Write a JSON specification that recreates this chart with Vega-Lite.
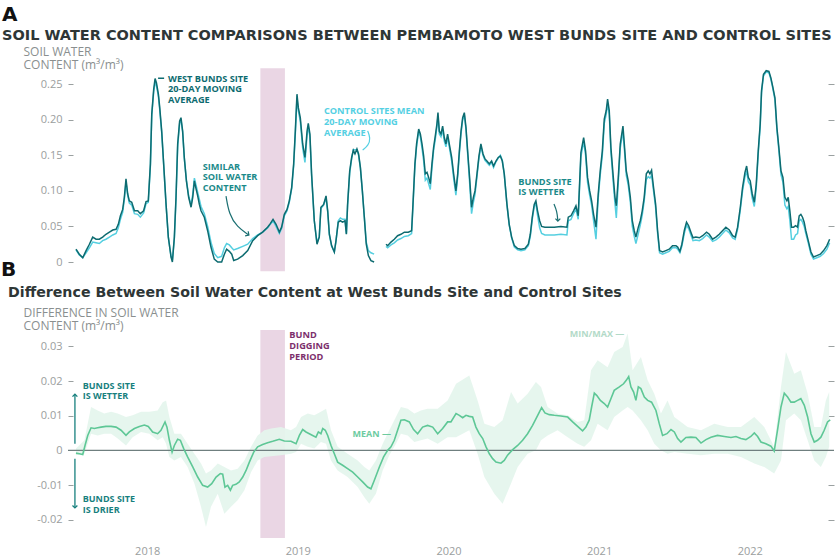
{
  "$schema": "https://vega.github.io/schema/vega-lite/v6.json",
  "padding": {"left": 0, "top": 4, "right": 0, "bottom": 0},
  "spacing": 4,
  "resolve": {"scale": {"x": "independent", "y": "independent"}, "axis": {"x": "independent", "y": "independent"}},
  "config": {
    "view": {"stroke": null},
    "font": "DejaVu Sans",
    "axis": {"labelFont": "Open Sans", "titleFont": "Open Sans", "grid": false}
  },
  "datasets": {
    "top": [
      {"t": 2017.524, "w": 0.018, "c": 0.017, "s": 1},
      {"t": 2017.546, "w": 0.011, "c": 0.010, "s": 1},
      {"t": 2017.569, "w": 0.006, "c": 0.006, "s": 1},
      {"t": 2017.591, "w": 0.016, "c": 0.013, "s": 1},
      {"t": 2017.613, "w": 0.025, "c": 0.020, "s": 1},
      {"t": 2017.635, "w": 0.035, "c": 0.028, "s": 1},
      {"t": 2017.657, "w": 0.032, "c": 0.027, "s": 1},
      {"t": 2017.679, "w": 0.032, "c": 0.026, "s": 1},
      {"t": 2017.701, "w": 0.035, "c": 0.030, "s": 1},
      {"t": 2017.723, "w": 0.039, "c": 0.032, "s": 1},
      {"t": 2017.746, "w": 0.042, "c": 0.035, "s": 1},
      {"t": 2017.768, "w": 0.045, "c": 0.038, "s": 1},
      {"t": 2017.790, "w": 0.046, "c": 0.040, "s": 1},
      {"t": 2017.805, "w": 0.053, "c": 0.048, "s": 1},
      {"t": 2017.819, "w": 0.065, "c": 0.060, "s": 1},
      {"t": 2017.834, "w": 0.074, "c": 0.070, "s": 1},
      {"t": 2017.845, "w": 0.091, "c": 0.088, "s": 1},
      {"t": 2017.856, "w": 0.117, "c": 0.112, "s": 1},
      {"t": 2017.867, "w": 0.096, "c": 0.094, "s": 1},
      {"t": 2017.878, "w": 0.086, "c": 0.083, "s": 1},
      {"t": 2017.894, "w": 0.084, "c": 0.080, "s": 1},
      {"t": 2017.912, "w": 0.072, "c": 0.068, "s": 1},
      {"t": 2017.934, "w": 0.072, "c": 0.067, "s": 1},
      {"t": 2017.951, "w": 0.068, "c": 0.063, "s": 1},
      {"t": 2017.973, "w": 0.072, "c": 0.069, "s": 1},
      {"t": 2017.989, "w": 0.085, "c": 0.082, "s": 1},
      {"t": 2018.004, "w": 0.086, "c": 0.084, "s": 1},
      {"t": 2018.018, "w": 0.138, "c": 0.135, "s": 1},
      {"t": 2018.027, "w": 0.208, "c": 0.205, "s": 1},
      {"t": 2018.040, "w": 0.243, "c": 0.240, "s": 1},
      {"t": 2018.049, "w": 0.258, "c": 0.252, "s": 1},
      {"t": 2018.058, "w": 0.252, "c": 0.248, "s": 1},
      {"t": 2018.071, "w": 0.236, "c": 0.233, "s": 1},
      {"t": 2018.080, "w": 0.217, "c": 0.214, "s": 1},
      {"t": 2018.093, "w": 0.184, "c": 0.182, "s": 1},
      {"t": 2018.106, "w": 0.138, "c": 0.137, "s": 1},
      {"t": 2018.122, "w": 0.081, "c": 0.080, "s": 1},
      {"t": 2018.137, "w": 0.035, "c": 0.035, "s": 1},
      {"t": 2018.155, "w": 0.007, "c": 0.008, "s": 1},
      {"t": 2018.164, "w": 0.000, "c": 0.003, "s": 1},
      {"t": 2018.177, "w": 0.035, "c": 0.033, "s": 1},
      {"t": 2018.188, "w": 0.091, "c": 0.088, "s": 1},
      {"t": 2018.199, "w": 0.166, "c": 0.162, "s": 1},
      {"t": 2018.212, "w": 0.198, "c": 0.195, "s": 1},
      {"t": 2018.221, "w": 0.203, "c": 0.200, "s": 1},
      {"t": 2018.232, "w": 0.184, "c": 0.183, "s": 1},
      {"t": 2018.243, "w": 0.147, "c": 0.146, "s": 1},
      {"t": 2018.257, "w": 0.114, "c": 0.115, "s": 1},
      {"t": 2018.272, "w": 0.091, "c": 0.093, "s": 1},
      {"t": 2018.288, "w": 0.077, "c": 0.080, "s": 1},
      {"t": 2018.299, "w": 0.091, "c": 0.095, "s": 1},
      {"t": 2018.310, "w": 0.114, "c": 0.118, "s": 1},
      {"t": 2018.321, "w": 0.103, "c": 0.108, "s": 1},
      {"t": 2018.332, "w": 0.093, "c": 0.098, "s": 1},
      {"t": 2018.343, "w": 0.081, "c": 0.088, "s": 1},
      {"t": 2018.354, "w": 0.072, "c": 0.078, "s": 1},
      {"t": 2018.376, "w": 0.063, "c": 0.068, "s": 1},
      {"t": 2018.398, "w": 0.044, "c": 0.050, "s": 1},
      {"t": 2018.420, "w": 0.021, "c": 0.028, "s": 1},
      {"t": 2018.442, "w": 0.004, "c": 0.012, "s": 1},
      {"t": 2018.465, "w": 0.000, "c": 0.006, "s": 1},
      {"t": 2018.491, "w": 0.000, "c": 0.008, "s": 1},
      {"t": 2018.509, "w": 0.011, "c": 0.020, "s": 1},
      {"t": 2018.524, "w": 0.018, "c": 0.026, "s": 1},
      {"t": 2018.542, "w": 0.015, "c": 0.024, "s": 1},
      {"t": 2018.558, "w": 0.011, "c": 0.020, "s": 1},
      {"t": 2018.571, "w": 0.002, "c": 0.017, "s": 1},
      {"t": 2018.597, "w": 0.004, "c": 0.019, "s": 1},
      {"t": 2018.631, "w": 0.009, "c": 0.022, "s": 1},
      {"t": 2018.664, "w": 0.016, "c": 0.025, "s": 1},
      {"t": 2018.697, "w": 0.030, "c": 0.033, "s": 1},
      {"t": 2018.730, "w": 0.037, "c": 0.038, "s": 1},
      {"t": 2018.763, "w": 0.042, "c": 0.042, "s": 1},
      {"t": 2018.796, "w": 0.049, "c": 0.048, "s": 1},
      {"t": 2018.814, "w": 0.054, "c": 0.053, "s": 1},
      {"t": 2018.832, "w": 0.060, "c": 0.058, "s": 1},
      {"t": 2018.852, "w": 0.053, "c": 0.050, "s": 1},
      {"t": 2018.874, "w": 0.042, "c": 0.040, "s": 1},
      {"t": 2018.889, "w": 0.049, "c": 0.047, "s": 1},
      {"t": 2018.907, "w": 0.067, "c": 0.065, "s": 1},
      {"t": 2018.925, "w": 0.074, "c": 0.072, "s": 1},
      {"t": 2018.940, "w": 0.086, "c": 0.084, "s": 1},
      {"t": 2018.956, "w": 0.105, "c": 0.103, "s": 1},
      {"t": 2018.969, "w": 0.138, "c": 0.135, "s": 1},
      {"t": 2018.980, "w": 0.184, "c": 0.180, "s": 1},
      {"t": 2018.991, "w": 0.236, "c": 0.230, "s": 1},
      {"t": 2019.000, "w": 0.217, "c": 0.213, "s": 1},
      {"t": 2019.013, "w": 0.203, "c": 0.198, "s": 1},
      {"t": 2019.029, "w": 0.166, "c": 0.160, "s": 1},
      {"t": 2019.044, "w": 0.147, "c": 0.140, "s": 1},
      {"t": 2019.058, "w": 0.184, "c": 0.178, "s": 1},
      {"t": 2019.066, "w": 0.195, "c": 0.190, "s": 1},
      {"t": 2019.077, "w": 0.180, "c": 0.176, "s": 1},
      {"t": 2019.088, "w": 0.124, "c": 0.122, "s": 1},
      {"t": 2019.106, "w": 0.058, "c": 0.058, "s": 1},
      {"t": 2019.124, "w": 0.025, "c": 0.027, "s": 1},
      {"t": 2019.139, "w": 0.035, "c": 0.036, "s": 1},
      {"t": 2019.150, "w": 0.077, "c": 0.075, "s": 1},
      {"t": 2019.168, "w": 0.081, "c": 0.080, "s": 1},
      {"t": 2019.184, "w": 0.093, "c": 0.090, "s": 1},
      {"t": 2019.195, "w": 0.072, "c": 0.070, "s": 1},
      {"t": 2019.206, "w": 0.039, "c": 0.038, "s": 1},
      {"t": 2019.221, "w": 0.023, "c": 0.022, "s": 1},
      {"t": 2019.239, "w": 0.014, "c": 0.014, "s": 1},
      {"t": 2019.250, "w": 0.030, "c": 0.029, "s": 1},
      {"t": 2019.265, "w": 0.056, "c": 0.058, "s": 1},
      {"t": 2019.279, "w": 0.058, "c": 0.062, "s": 1},
      {"t": 2019.294, "w": 0.056, "c": 0.060, "s": 1},
      {"t": 2019.310, "w": 0.058, "c": 0.060, "s": 1},
      {"t": 2019.319, "w": 0.039, "c": 0.040, "s": 1},
      {"t": 2019.327, "w": 0.081, "c": 0.079, "s": 1},
      {"t": 2019.341, "w": 0.128, "c": 0.125, "s": 1},
      {"t": 2019.354, "w": 0.147, "c": 0.145, "s": 1},
      {"t": 2019.365, "w": 0.157, "c": 0.158, "s": 1},
      {"t": 2019.376, "w": 0.152, "c": 0.158, "s": 1},
      {"t": 2019.389, "w": 0.159, "c": 0.158, "s": 1},
      {"t": 2019.400, "w": 0.152, "c": 0.150, "s": 1},
      {"t": 2019.412, "w": 0.133, "c": 0.132, "s": 1},
      {"t": 2019.425, "w": 0.100, "c": 0.100, "s": 1},
      {"t": 2019.438, "w": 0.063, "c": 0.064, "s": 1},
      {"t": 2019.451, "w": 0.025, "c": 0.028, "s": 1},
      {"t": 2019.465, "w": 0.009, "c": 0.016, "s": 1},
      {"t": 2019.482, "w": 0.002, "c": 0.013, "s": 1},
      {"t": 2019.503, "w": 0.000, "c": 0.011, "s": 1},
      {"t": 2019.582, "w": 0.025, "c": 0.022, "s": 2},
      {"t": 2019.593, "w": 0.023, "c": 0.020, "s": 2},
      {"t": 2019.615, "w": 0.028, "c": 0.024, "s": 2},
      {"t": 2019.637, "w": 0.032, "c": 0.027, "s": 2},
      {"t": 2019.659, "w": 0.037, "c": 0.031, "s": 2},
      {"t": 2019.681, "w": 0.039, "c": 0.033, "s": 2},
      {"t": 2019.704, "w": 0.042, "c": 0.036, "s": 2},
      {"t": 2019.730, "w": 0.042, "c": 0.037, "s": 2},
      {"t": 2019.752, "w": 0.044, "c": 0.040, "s": 2},
      {"t": 2019.761, "w": 0.081, "c": 0.078, "s": 2},
      {"t": 2019.774, "w": 0.138, "c": 0.135, "s": 2},
      {"t": 2019.785, "w": 0.166, "c": 0.162, "s": 2},
      {"t": 2019.799, "w": 0.187, "c": 0.184, "s": 2},
      {"t": 2019.810, "w": 0.180, "c": 0.176, "s": 2},
      {"t": 2019.821, "w": 0.166, "c": 0.160, "s": 2},
      {"t": 2019.832, "w": 0.149, "c": 0.142, "s": 2},
      {"t": 2019.843, "w": 0.124, "c": 0.115, "s": 2},
      {"t": 2019.854, "w": 0.126, "c": 0.118, "s": 2},
      {"t": 2019.865, "w": 0.119, "c": 0.110, "s": 2},
      {"t": 2019.876, "w": 0.110, "c": 0.102, "s": 2},
      {"t": 2019.887, "w": 0.138, "c": 0.132, "s": 2},
      {"t": 2019.898, "w": 0.161, "c": 0.157, "s": 2},
      {"t": 2019.909, "w": 0.177, "c": 0.172, "s": 2},
      {"t": 2019.920, "w": 0.194, "c": 0.190, "s": 2},
      {"t": 2019.927, "w": 0.210, "c": 0.205, "s": 2},
      {"t": 2019.936, "w": 0.184, "c": 0.180, "s": 2},
      {"t": 2019.947, "w": 0.180, "c": 0.176, "s": 2},
      {"t": 2019.958, "w": 0.191, "c": 0.186, "s": 2},
      {"t": 2019.969, "w": 0.175, "c": 0.170, "s": 2},
      {"t": 2019.980, "w": 0.166, "c": 0.162, "s": 2},
      {"t": 2019.991, "w": 0.180, "c": 0.176, "s": 2},
      {"t": 2020.002, "w": 0.166, "c": 0.162, "s": 2},
      {"t": 2020.018, "w": 0.147, "c": 0.142, "s": 2},
      {"t": 2020.031, "w": 0.124, "c": 0.118, "s": 2},
      {"t": 2020.046, "w": 0.100, "c": 0.094, "s": 2},
      {"t": 2020.058, "w": 0.124, "c": 0.120, "s": 2},
      {"t": 2020.069, "w": 0.156, "c": 0.152, "s": 2},
      {"t": 2020.080, "w": 0.184, "c": 0.180, "s": 2},
      {"t": 2020.091, "w": 0.203, "c": 0.200, "s": 2},
      {"t": 2020.102, "w": 0.210, "c": 0.207, "s": 2},
      {"t": 2020.113, "w": 0.189, "c": 0.186, "s": 2},
      {"t": 2020.124, "w": 0.156, "c": 0.152, "s": 2},
      {"t": 2020.137, "w": 0.119, "c": 0.112, "s": 2},
      {"t": 2020.150, "w": 0.077, "c": 0.068, "s": 2},
      {"t": 2020.162, "w": 0.091, "c": 0.084, "s": 2},
      {"t": 2020.173, "w": 0.100, "c": 0.095, "s": 2},
      {"t": 2020.186, "w": 0.124, "c": 0.120, "s": 2},
      {"t": 2020.199, "w": 0.149, "c": 0.146, "s": 2},
      {"t": 2020.212, "w": 0.166, "c": 0.163, "s": 2},
      {"t": 2020.226, "w": 0.152, "c": 0.150, "s": 2},
      {"t": 2020.239, "w": 0.145, "c": 0.143, "s": 2},
      {"t": 2020.252, "w": 0.142, "c": 0.140, "s": 2},
      {"t": 2020.268, "w": 0.138, "c": 0.136, "s": 2},
      {"t": 2020.283, "w": 0.142, "c": 0.140, "s": 2},
      {"t": 2020.296, "w": 0.135, "c": 0.133, "s": 2},
      {"t": 2020.312, "w": 0.142, "c": 0.141, "s": 2},
      {"t": 2020.327, "w": 0.147, "c": 0.146, "s": 2},
      {"t": 2020.341, "w": 0.149, "c": 0.150, "s": 2},
      {"t": 2020.354, "w": 0.142, "c": 0.143, "s": 2},
      {"t": 2020.367, "w": 0.124, "c": 0.124, "s": 2},
      {"t": 2020.385, "w": 0.081, "c": 0.080, "s": 2},
      {"t": 2020.400, "w": 0.053, "c": 0.052, "s": 2},
      {"t": 2020.416, "w": 0.035, "c": 0.034, "s": 2},
      {"t": 2020.434, "w": 0.023, "c": 0.021, "s": 2},
      {"t": 2020.456, "w": 0.019, "c": 0.017, "s": 2},
      {"t": 2020.478, "w": 0.018, "c": 0.016, "s": 2},
      {"t": 2020.504, "w": 0.019, "c": 0.017, "s": 2},
      {"t": 2020.527, "w": 0.025, "c": 0.023, "s": 2},
      {"t": 2020.540, "w": 0.039, "c": 0.036, "s": 2},
      {"t": 2020.553, "w": 0.063, "c": 0.060, "s": 2},
      {"t": 2020.566, "w": 0.081, "c": 0.078, "s": 2},
      {"t": 2020.577, "w": 0.086, "c": 0.082, "s": 2},
      {"t": 2020.588, "w": 0.072, "c": 0.066, "s": 2},
      {"t": 2020.602, "w": 0.058, "c": 0.048, "s": 2},
      {"t": 2020.615, "w": 0.050, "c": 0.040, "s": 2},
      {"t": 2020.637, "w": 0.049, "c": 0.038, "s": 2},
      {"t": 2020.699, "w": 0.049, "c": 0.038, "s": 2},
      {"t": 2020.743, "w": 0.050, "c": 0.039, "s": 2},
      {"t": 2020.783, "w": 0.049, "c": 0.038, "s": 2},
      {"t": 2020.792, "w": 0.063, "c": 0.058, "s": 2},
      {"t": 2020.810, "w": 0.065, "c": 0.060, "s": 2},
      {"t": 2020.827, "w": 0.072, "c": 0.068, "s": 2},
      {"t": 2020.843, "w": 0.079, "c": 0.074, "s": 2},
      {"t": 2020.858, "w": 0.065, "c": 0.060, "s": 2},
      {"t": 2020.867, "w": 0.110, "c": 0.105, "s": 2},
      {"t": 2020.876, "w": 0.154, "c": 0.148, "s": 2},
      {"t": 2020.894, "w": 0.175, "c": 0.170, "s": 2},
      {"t": 2020.907, "w": 0.156, "c": 0.150, "s": 2},
      {"t": 2020.920, "w": 0.119, "c": 0.112, "s": 2},
      {"t": 2020.934, "w": 0.100, "c": 0.094, "s": 2},
      {"t": 2020.947, "w": 0.086, "c": 0.080, "s": 2},
      {"t": 2020.960, "w": 0.067, "c": 0.058, "s": 2},
      {"t": 2020.976, "w": 0.049, "c": 0.032, "s": 2},
      {"t": 2020.991, "w": 0.096, "c": 0.090, "s": 2},
      {"t": 2021.004, "w": 0.128, "c": 0.122, "s": 2},
      {"t": 2021.018, "w": 0.156, "c": 0.150, "s": 2},
      {"t": 2021.031, "w": 0.201, "c": 0.195, "s": 2},
      {"t": 2021.044, "w": 0.213, "c": 0.208, "s": 2},
      {"t": 2021.053, "w": 0.229, "c": 0.222, "s": 2},
      {"t": 2021.064, "w": 0.213, "c": 0.208, "s": 2},
      {"t": 2021.075, "w": 0.161, "c": 0.155, "s": 2},
      {"t": 2021.089, "w": 0.124, "c": 0.116, "s": 2},
      {"t": 2021.102, "w": 0.091, "c": 0.082, "s": 2},
      {"t": 2021.111, "w": 0.079, "c": 0.062, "s": 2},
      {"t": 2021.124, "w": 0.119, "c": 0.112, "s": 2},
      {"t": 2021.137, "w": 0.166, "c": 0.160, "s": 2},
      {"t": 2021.155, "w": 0.191, "c": 0.184, "s": 2},
      {"t": 2021.164, "w": 0.166, "c": 0.160, "s": 2},
      {"t": 2021.177, "w": 0.128, "c": 0.122, "s": 2},
      {"t": 2021.190, "w": 0.114, "c": 0.108, "s": 2},
      {"t": 2021.204, "w": 0.091, "c": 0.084, "s": 2},
      {"t": 2021.217, "w": 0.058, "c": 0.050, "s": 2},
      {"t": 2021.230, "w": 0.044, "c": 0.036, "s": 2},
      {"t": 2021.241, "w": 0.035, "c": 0.026, "s": 2},
      {"t": 2021.257, "w": 0.049, "c": 0.040, "s": 2},
      {"t": 2021.270, "w": 0.058, "c": 0.052, "s": 2},
      {"t": 2021.283, "w": 0.072, "c": 0.066, "s": 2},
      {"t": 2021.296, "w": 0.091, "c": 0.086, "s": 2},
      {"t": 2021.310, "w": 0.124, "c": 0.116, "s": 2},
      {"t": 2021.323, "w": 0.128, "c": 0.120, "s": 2},
      {"t": 2021.334, "w": 0.124, "c": 0.118, "s": 2},
      {"t": 2021.345, "w": 0.129, "c": 0.122, "s": 2},
      {"t": 2021.358, "w": 0.105, "c": 0.100, "s": 2},
      {"t": 2021.372, "w": 0.081, "c": 0.076, "s": 2},
      {"t": 2021.385, "w": 0.044, "c": 0.040, "s": 2},
      {"t": 2021.398, "w": 0.016, "c": 0.013, "s": 2},
      {"t": 2021.418, "w": 0.014, "c": 0.011, "s": 2},
      {"t": 2021.440, "w": 0.016, "c": 0.013, "s": 2},
      {"t": 2021.462, "w": 0.018, "c": 0.015, "s": 2},
      {"t": 2021.484, "w": 0.023, "c": 0.020, "s": 2},
      {"t": 2021.507, "w": 0.023, "c": 0.020, "s": 2},
      {"t": 2021.518, "w": 0.021, "c": 0.018, "s": 2},
      {"t": 2021.533, "w": 0.015, "c": 0.013, "s": 2},
      {"t": 2021.546, "w": 0.025, "c": 0.022, "s": 2},
      {"t": 2021.562, "w": 0.044, "c": 0.040, "s": 2},
      {"t": 2021.577, "w": 0.056, "c": 0.052, "s": 2},
      {"t": 2021.591, "w": 0.051, "c": 0.047, "s": 2},
      {"t": 2021.606, "w": 0.042, "c": 0.038, "s": 2},
      {"t": 2021.620, "w": 0.034, "c": 0.030, "s": 2},
      {"t": 2021.639, "w": 0.035, "c": 0.031, "s": 2},
      {"t": 2021.662, "w": 0.034, "c": 0.030, "s": 2},
      {"t": 2021.684, "w": 0.037, "c": 0.033, "s": 2},
      {"t": 2021.710, "w": 0.042, "c": 0.038, "s": 2},
      {"t": 2021.728, "w": 0.039, "c": 0.035, "s": 2},
      {"t": 2021.750, "w": 0.032, "c": 0.029, "s": 2},
      {"t": 2021.772, "w": 0.035, "c": 0.031, "s": 2},
      {"t": 2021.794, "w": 0.039, "c": 0.035, "s": 2},
      {"t": 2021.816, "w": 0.044, "c": 0.040, "s": 2},
      {"t": 2021.838, "w": 0.049, "c": 0.045, "s": 2},
      {"t": 2021.861, "w": 0.045, "c": 0.041, "s": 2},
      {"t": 2021.883, "w": 0.037, "c": 0.034, "s": 2},
      {"t": 2021.900, "w": 0.035, "c": 0.032, "s": 2},
      {"t": 2021.916, "w": 0.049, "c": 0.046, "s": 2},
      {"t": 2021.934, "w": 0.077, "c": 0.073, "s": 2},
      {"t": 2021.949, "w": 0.105, "c": 0.100, "s": 2},
      {"t": 2021.965, "w": 0.126, "c": 0.120, "s": 2},
      {"t": 2021.976, "w": 0.135, "c": 0.128, "s": 2},
      {"t": 2021.987, "w": 0.119, "c": 0.113, "s": 2},
      {"t": 2022.000, "w": 0.114, "c": 0.108, "s": 2},
      {"t": 2022.013, "w": 0.096, "c": 0.090, "s": 2},
      {"t": 2022.027, "w": 0.084, "c": 0.078, "s": 2},
      {"t": 2022.040, "w": 0.110, "c": 0.105, "s": 2},
      {"t": 2022.053, "w": 0.156, "c": 0.152, "s": 2},
      {"t": 2022.066, "w": 0.194, "c": 0.190, "s": 2},
      {"t": 2022.075, "w": 0.241, "c": 0.238, "s": 2},
      {"t": 2022.088, "w": 0.264, "c": 0.262, "s": 2},
      {"t": 2022.106, "w": 0.269, "c": 0.267, "s": 2},
      {"t": 2022.124, "w": 0.268, "c": 0.266, "s": 2},
      {"t": 2022.137, "w": 0.259, "c": 0.257, "s": 2},
      {"t": 2022.148, "w": 0.248, "c": 0.246, "s": 2},
      {"t": 2022.164, "w": 0.231, "c": 0.228, "s": 2},
      {"t": 2022.177, "w": 0.189, "c": 0.186, "s": 2},
      {"t": 2022.190, "w": 0.161, "c": 0.157, "s": 2},
      {"t": 2022.204, "w": 0.128, "c": 0.123, "s": 2},
      {"t": 2022.217, "w": 0.119, "c": 0.112, "s": 2},
      {"t": 2022.230, "w": 0.091, "c": 0.080, "s": 2},
      {"t": 2022.243, "w": 0.086, "c": 0.075, "s": 2},
      {"t": 2022.252, "w": 0.091, "c": 0.078, "s": 2},
      {"t": 2022.263, "w": 0.072, "c": 0.058, "s": 2},
      {"t": 2022.274, "w": 0.049, "c": 0.032, "s": 2},
      {"t": 2022.288, "w": 0.049, "c": 0.032, "s": 2},
      {"t": 2022.301, "w": 0.051, "c": 0.038, "s": 2},
      {"t": 2022.314, "w": 0.049, "c": 0.040, "s": 2},
      {"t": 2022.325, "w": 0.065, "c": 0.058, "s": 2},
      {"t": 2022.336, "w": 0.067, "c": 0.060, "s": 2},
      {"t": 2022.347, "w": 0.063, "c": 0.056, "s": 2},
      {"t": 2022.358, "w": 0.056, "c": 0.050, "s": 2},
      {"t": 2022.369, "w": 0.044, "c": 0.040, "s": 2},
      {"t": 2022.385, "w": 0.030, "c": 0.027, "s": 2},
      {"t": 2022.403, "w": 0.014, "c": 0.011, "s": 2},
      {"t": 2022.420, "w": 0.007, "c": 0.004, "s": 2},
      {"t": 2022.442, "w": 0.009, "c": 0.006, "s": 2},
      {"t": 2022.465, "w": 0.011, "c": 0.008, "s": 2},
      {"t": 2022.487, "w": 0.016, "c": 0.012, "s": 2},
      {"t": 2022.509, "w": 0.023, "c": 0.018, "s": 2},
      {"t": 2022.527, "w": 0.032, "c": 0.027, "s": 2}
    ],
    "mean": [
      {"t": 2017.524, "m": -0.0008}, {"t": 2017.546, "m": -0.001}, {"t": 2017.569, "m": -0.0012},
      {"t": 2017.584, "m": 0.0014}, {"t": 2017.602, "m": 0.0043}, {"t": 2017.624, "m": 0.0065},
      {"t": 2017.646, "m": 0.0063}, {"t": 2017.668, "m": 0.0065}, {"t": 2017.690, "m": 0.0067},
      {"t": 2017.723, "m": 0.0069}, {"t": 2017.757, "m": 0.0069}, {"t": 2017.790, "m": 0.0067},
      {"t": 2017.823, "m": 0.0058}, {"t": 2017.856, "m": 0.0043}, {"t": 2017.878, "m": 0.0053},
      {"t": 2017.912, "m": 0.0063}, {"t": 2017.945, "m": 0.0069}, {"t": 2017.978, "m": 0.0073},
      {"t": 2018.004, "m": 0.0069}, {"t": 2018.033, "m": 0.0053}, {"t": 2018.066, "m": 0.0048},
      {"t": 2018.088, "m": 0.0058}, {"t": 2018.115, "m": 0.0082}, {"t": 2018.128, "m": 0.0067},
      {"t": 2018.144, "m": 0.0029}, {"t": 2018.162, "m": -0.0005}, {"t": 2018.177, "m": 0.0014},
      {"t": 2018.199, "m": 0.0032}, {"t": 2018.217, "m": 0.0029}, {"t": 2018.239, "m": 0.0005},
      {"t": 2018.265, "m": -0.0019}, {"t": 2018.299, "m": -0.0048}, {"t": 2018.332, "m": -0.0077},
      {"t": 2018.365, "m": -0.0101}, {"t": 2018.398, "m": -0.0106}, {"t": 2018.425, "m": -0.0096},
      {"t": 2018.454, "m": -0.0077}, {"t": 2018.482, "m": -0.0067}, {"t": 2018.498, "m": -0.0069},
      {"t": 2018.513, "m": -0.0106}, {"t": 2018.531, "m": -0.0101}, {"t": 2018.549, "m": -0.0115},
      {"t": 2018.564, "m": -0.0101}, {"t": 2018.586, "m": -0.0098}, {"t": 2018.608, "m": -0.0091},
      {"t": 2018.631, "m": -0.0077}, {"t": 2018.653, "m": -0.0058}, {"t": 2018.675, "m": -0.0034},
      {"t": 2018.704, "m": -0.0005}, {"t": 2018.730, "m": 0.001}, {"t": 2018.763, "m": 0.0017},
      {"t": 2018.796, "m": 0.0022}, {"t": 2018.830, "m": 0.0026}, {"t": 2018.874, "m": 0.0032},
      {"t": 2018.907, "m": 0.0027}, {"t": 2018.951, "m": 0.0026}, {"t": 2018.985, "m": 0.0019},
      {"t": 2019.007, "m": 0.0043}, {"t": 2019.029, "m": 0.006}, {"t": 2019.051, "m": 0.0053},
      {"t": 2019.073, "m": 0.0048}, {"t": 2019.095, "m": 0.0043}, {"t": 2019.117, "m": 0.0038},
      {"t": 2019.133, "m": 0.0053}, {"t": 2019.150, "m": 0.0048}, {"t": 2019.162, "m": 0.0063},
      {"t": 2019.179, "m": 0.0058}, {"t": 2019.195, "m": 0.0043}, {"t": 2019.217, "m": 0.0014},
      {"t": 2019.239, "m": -0.001}, {"t": 2019.261, "m": -0.0034}, {"t": 2019.294, "m": -0.0043},
      {"t": 2019.327, "m": -0.0053}, {"t": 2019.361, "m": -0.0063}, {"t": 2019.394, "m": -0.0077},
      {"t": 2019.427, "m": -0.0091}, {"t": 2019.460, "m": -0.0106}, {"t": 2019.482, "m": -0.0111},
      {"t": 2019.504, "m": -0.0087}, {"t": 2019.538, "m": -0.0048}, {"t": 2019.566, "m": -0.0019},
      {"t": 2019.593, "m": 0.0}, {"t": 2019.615, "m": 0.001}, {"t": 2019.637, "m": 0.0029},
      {"t": 2019.659, "m": 0.0058}, {"t": 2019.681, "m": 0.0087}, {"t": 2019.704, "m": 0.0088},
      {"t": 2019.737, "m": 0.0082}, {"t": 2019.765, "m": 0.006}, {"t": 2019.792, "m": 0.0048},
      {"t": 2019.825, "m": 0.0067}, {"t": 2019.858, "m": 0.0072}, {"t": 2019.892, "m": 0.0067},
      {"t": 2019.925, "m": 0.0048}, {"t": 2019.958, "m": 0.0063}, {"t": 2019.991, "m": 0.0082},
      {"t": 2020.013, "m": 0.0082}, {"t": 2020.047, "m": 0.0106}, {"t": 2020.069, "m": 0.0101},
      {"t": 2020.091, "m": 0.0094}, {"t": 2020.113, "m": 0.0101}, {"t": 2020.135, "m": 0.0098},
      {"t": 2020.157, "m": 0.0096}, {"t": 2020.179, "m": 0.0067}, {"t": 2020.201, "m": 0.0048},
      {"t": 2020.224, "m": 0.0034}, {"t": 2020.246, "m": 0.001}, {"t": 2020.268, "m": -0.001},
      {"t": 2020.290, "m": -0.0024}, {"t": 2020.312, "m": -0.0034}, {"t": 2020.345, "m": -0.0037},
      {"t": 2020.367, "m": -0.0029}, {"t": 2020.389, "m": -0.0014}, {"t": 2020.423, "m": 0.0002},
      {"t": 2020.456, "m": 0.0014}, {"t": 2020.489, "m": 0.0029}, {"t": 2020.522, "m": 0.0048},
      {"t": 2020.555, "m": 0.0072}, {"t": 2020.589, "m": 0.0101}, {"t": 2020.615, "m": 0.0123},
      {"t": 2020.637, "m": 0.0108}, {"t": 2020.666, "m": 0.0103}, {"t": 2020.699, "m": 0.0101},
      {"t": 2020.743, "m": 0.0099}, {"t": 2020.788, "m": 0.0096}, {"t": 2020.821, "m": 0.0082},
      {"t": 2020.854, "m": 0.0069}, {"t": 2020.887, "m": 0.0056}, {"t": 2020.909, "m": 0.0067},
      {"t": 2020.931, "m": 0.0087}, {"t": 2020.947, "m": 0.0125}, {"t": 2020.965, "m": 0.0165},
      {"t": 2020.982, "m": 0.0158}, {"t": 2021.005, "m": 0.0144}, {"t": 2021.031, "m": 0.0135},
      {"t": 2021.053, "m": 0.0125}, {"t": 2021.075, "m": 0.0149}, {"t": 2021.097, "m": 0.0173},
      {"t": 2021.131, "m": 0.0183}, {"t": 2021.159, "m": 0.0192}, {"t": 2021.177, "m": 0.0202},
      {"t": 2021.193, "m": 0.0213}, {"t": 2021.208, "m": 0.0183}, {"t": 2021.226, "m": 0.0168},
      {"t": 2021.241, "m": 0.0144}, {"t": 2021.257, "m": 0.0183}, {"t": 2021.274, "m": 0.0178},
      {"t": 2021.297, "m": 0.0154}, {"t": 2021.319, "m": 0.0144}, {"t": 2021.345, "m": 0.0139},
      {"t": 2021.374, "m": 0.0115}, {"t": 2021.396, "m": 0.0077}, {"t": 2021.418, "m": 0.0043},
      {"t": 2021.447, "m": 0.0048}, {"t": 2021.474, "m": 0.006}, {"t": 2021.496, "m": 0.0053},
      {"t": 2021.518, "m": 0.0034}, {"t": 2021.540, "m": 0.0024}, {"t": 2021.573, "m": 0.0037},
      {"t": 2021.606, "m": 0.0038}, {"t": 2021.639, "m": 0.0037}, {"t": 2021.673, "m": 0.0021},
      {"t": 2021.706, "m": 0.0031}, {"t": 2021.739, "m": 0.0038}, {"t": 2021.783, "m": 0.0043},
      {"t": 2021.828, "m": 0.004}, {"t": 2021.872, "m": 0.0037}, {"t": 2021.905, "m": 0.004},
      {"t": 2021.938, "m": 0.0034}, {"t": 2021.971, "m": 0.0031}, {"t": 2022.004, "m": 0.004},
      {"t": 2022.027, "m": 0.005}, {"t": 2022.049, "m": 0.004}, {"t": 2022.071, "m": 0.0024},
      {"t": 2022.104, "m": 0.0019}, {"t": 2022.137, "m": 0.0012}, {"t": 2022.159, "m": -0.0002},
      {"t": 2022.181, "m": 0.0058}, {"t": 2022.204, "m": 0.0125}, {"t": 2022.226, "m": 0.0165},
      {"t": 2022.248, "m": 0.0154}, {"t": 2022.270, "m": 0.0139}, {"t": 2022.292, "m": 0.0139},
      {"t": 2022.314, "m": 0.0144}, {"t": 2022.336, "m": 0.0149}, {"t": 2022.359, "m": 0.013},
      {"t": 2022.381, "m": 0.0096}, {"t": 2022.403, "m": 0.0048}, {"t": 2022.425, "m": 0.0024},
      {"t": 2022.447, "m": 0.0029}, {"t": 2022.469, "m": 0.0038}, {"t": 2022.491, "m": 0.0058},
      {"t": 2022.513, "m": 0.0082}, {"t": 2022.531, "m": 0.0088}
    ],
    "band": [
      {"t": 2017.524, "lo": -0.0014, "hi": 0.0005}, {"t": 2017.580, "lo": -0.001, "hi": 0.0029},
      {"t": 2017.624, "lo": 0.0048, "hi": 0.0125}, {"t": 2017.668, "lo": 0.0043, "hi": 0.0115},
      {"t": 2017.712, "lo": 0.0048, "hi": 0.0106}, {"t": 2017.757, "lo": 0.0048, "hi": 0.0111},
      {"t": 2017.801, "lo": 0.0034, "hi": 0.0106}, {"t": 2017.856, "lo": 0.0014, "hi": 0.0096},
      {"t": 2017.900, "lo": 0.0038, "hi": 0.0101}, {"t": 2017.956, "lo": 0.0053, "hi": 0.0111},
      {"t": 2018.011, "lo": 0.0048, "hi": 0.0111}, {"t": 2018.066, "lo": 0.0029, "hi": 0.0115},
      {"t": 2018.100, "lo": 0.0038, "hi": 0.0139}, {"t": 2018.122, "lo": 0.0019, "hi": 0.0144},
      {"t": 2018.144, "lo": -0.0019, "hi": 0.0096}, {"t": 2018.177, "lo": -0.0029, "hi": 0.0048},
      {"t": 2018.221, "lo": -0.0019, "hi": 0.0048}, {"t": 2018.265, "lo": -0.0048, "hi": 0.0019},
      {"t": 2018.310, "lo": -0.0096, "hi": -0.001}, {"t": 2018.354, "lo": -0.0163, "hi": -0.0038},
      {"t": 2018.387, "lo": -0.0221, "hi": -0.0067}, {"t": 2018.420, "lo": -0.0163, "hi": -0.0058},
      {"t": 2018.465, "lo": -0.0125, "hi": -0.0038}, {"t": 2018.509, "lo": -0.0183, "hi": -0.0048},
      {"t": 2018.553, "lo": -0.0163, "hi": -0.0058}, {"t": 2018.597, "lo": -0.0144, "hi": -0.0053},
      {"t": 2018.642, "lo": -0.0115, "hi": -0.0029}, {"t": 2018.686, "lo": -0.0063, "hi": 0.001},
      {"t": 2018.730, "lo": -0.0029, "hi": 0.0043}, {"t": 2018.774, "lo": -0.0019, "hi": 0.0058},
      {"t": 2018.819, "lo": -0.0017, "hi": 0.0063}, {"t": 2018.885, "lo": -0.0014, "hi": 0.0067},
      {"t": 2018.951, "lo": -0.001, "hi": 0.0058}, {"t": 2018.985, "lo": -0.0005, "hi": 0.0067},
      {"t": 2019.018, "lo": 0.0019, "hi": 0.0096}, {"t": 2019.062, "lo": 0.001, "hi": 0.0106},
      {"t": 2019.106, "lo": 0.0005, "hi": 0.0101}, {"t": 2019.150, "lo": 0.0024, "hi": 0.0111},
      {"t": 2019.184, "lo": 0.0019, "hi": 0.012}, {"t": 2019.217, "lo": -0.0029, "hi": 0.0058},
      {"t": 2019.261, "lo": -0.0058, "hi": 0.001}, {"t": 2019.327, "lo": -0.0077, "hi": -0.001},
      {"t": 2019.394, "lo": -0.0106, "hi": -0.0029}, {"t": 2019.438, "lo": -0.0135, "hi": -0.0048},
      {"t": 2019.471, "lo": -0.0154, "hi": -0.0058}, {"t": 2019.515, "lo": -0.0125, "hi": -0.0029},
      {"t": 2019.560, "lo": -0.0058, "hi": 0.0019}, {"t": 2019.604, "lo": -0.0014, "hi": 0.0058},
      {"t": 2019.648, "lo": 0.0019, "hi": 0.0096}, {"t": 2019.681, "lo": 0.0048, "hi": 0.0125},
      {"t": 2019.726, "lo": 0.0043, "hi": 0.012}, {"t": 2019.770, "lo": 0.0024, "hi": 0.0106},
      {"t": 2019.814, "lo": 0.0029, "hi": 0.0115}, {"t": 2019.858, "lo": 0.0034, "hi": 0.012},
      {"t": 2019.925, "lo": 0.0019, "hi": 0.012}, {"t": 2019.991, "lo": 0.0038, "hi": 0.0144},
      {"t": 2020.047, "lo": 0.0038, "hi": 0.0192}, {"t": 2020.135, "lo": 0.0058, "hi": 0.0216},
      {"t": 2020.190, "lo": -0.001, "hi": 0.0144}, {"t": 2020.235, "lo": -0.0077, "hi": 0.0077},
      {"t": 2020.301, "lo": -0.0125, "hi": 0.0067}, {"t": 2020.356, "lo": -0.0154, "hi": 0.0087},
      {"t": 2020.412, "lo": -0.0096, "hi": 0.0168}, {"t": 2020.456, "lo": -0.0048, "hi": 0.0135},
      {"t": 2020.522, "lo": -0.001, "hi": 0.0163}, {"t": 2020.577, "lo": 0.0, "hi": 0.0197},
      {"t": 2020.611, "lo": 0.0029, "hi": 0.0183}, {"t": 2020.655, "lo": 0.0043, "hi": 0.0125},
      {"t": 2020.721, "lo": 0.0058, "hi": 0.0106}, {"t": 2020.788, "lo": 0.0038, "hi": 0.0101},
      {"t": 2020.854, "lo": 0.0019, "hi": 0.0082}, {"t": 2020.898, "lo": 0.001, "hi": 0.0087},
      {"t": 2020.943, "lo": 0.0029, "hi": 0.0231}, {"t": 2020.987, "lo": 0.0077, "hi": 0.026},
      {"t": 2021.053, "lo": 0.0058, "hi": 0.024}, {"t": 2021.097, "lo": 0.0096, "hi": 0.0284},
      {"t": 2021.153, "lo": 0.0115, "hi": 0.0298}, {"t": 2021.186, "lo": 0.0125, "hi": 0.0337},
      {"t": 2021.219, "lo": 0.0115, "hi": 0.0231}, {"t": 2021.274, "lo": 0.0087, "hi": 0.0269},
      {"t": 2021.319, "lo": 0.0058, "hi": 0.0202}, {"t": 2021.363, "lo": 0.0019, "hi": 0.0163},
      {"t": 2021.407, "lo": 0.0, "hi": 0.0106}, {"t": 2021.451, "lo": -0.001, "hi": 0.0144},
      {"t": 2021.496, "lo": -0.0005, "hi": 0.0096}, {"t": 2021.584, "lo": -0.001, "hi": 0.0067},
      {"t": 2021.673, "lo": -0.0014, "hi": 0.0058}, {"t": 2021.761, "lo": -0.001, "hi": 0.0077},
      {"t": 2021.850, "lo": -0.001, "hi": 0.0067}, {"t": 2021.938, "lo": -0.0019, "hi": 0.0067},
      {"t": 2022.027, "lo": -0.0038, "hi": 0.0096}, {"t": 2022.093, "lo": -0.0048, "hi": 0.0067},
      {"t": 2022.159, "lo": -0.0067, "hi": 0.001}, {"t": 2022.204, "lo": -0.0029, "hi": 0.0183},
      {"t": 2022.237, "lo": 0.0087, "hi": 0.0284}, {"t": 2022.292, "lo": 0.0106, "hi": 0.0221},
      {"t": 2022.336, "lo": 0.0087, "hi": 0.0231}, {"t": 2022.381, "lo": 0.0029, "hi": 0.0163},
      {"t": 2022.425, "lo": -0.0029, "hi": 0.0067}, {"t": 2022.469, "lo": -0.0048, "hi": 0.0067},
      {"t": 2022.502, "lo": -0.0019, "hi": 0.0144}, {"t": 2022.524, "lo": 0.001, "hi": 0.0168}
    ],
    "years": [
      {"yr": 2018, "lab": "2018"}, {"yr": 2019, "lab": "2019"}, {"yr": 2020, "lab": "2020"},
      {"yr": 2021, "lab": "2021"}, {"yr": 2022, "lab": "2022"}
    ]
  },
  "vconcat": [
    {
      "width": 766,
      "height": 192,
      "title": {
        "text": "A",
        "subtitle": "SOIL WATER CONTENT COMPARISONS BETWEEN PEMBAMOTO WEST BUNDS SITE AND CONTROL SITES",
        "anchor": "start",
        "frame": "group",
        "dx": -66,
        "offset": 3,
        "font": "DejaVu Sans",
        "fontSize": 20,
        "fontWeight": "bold",
        "color": "#111111",
        "subtitleFont": "DejaVu Sans",
        "subtitleFontSize": 14.5,
        "subtitleFontWeight": "bold",
        "subtitleColor": "#2e3636",
        "subtitlePadding": 4
      },
      "resolve": {"axis": {"y": "independent"}},
      "layer": [
        {
          "data": {"values": [{"t1": 2018.748, "t2": 2018.911, "v1": -0.013, "v2": 0.2725}]},
          "mark": {"type": "rect", "color": "#ead6e4"},
          "encoding": {
            "x": {"field": "t1", "type": "quantitative", "scale": {"domain": [2017.471, 2022.556], "nice": false, "zero": false},
              "axis": {"orient": "bottom", "values": [2018, 2019, 2020, 2021, 2022], "labels": false, "title": null, "domainColor": "#8a9797", "domainWidth": 1.3, "ticks": true, "tickColor": "#8a9797", "tickSize": 5}},
            "x2": {"field": "t2"},
            "y": {"field": "v1", "type": "quantitative", "scale": {"domain": [0, 0.27], "nice": false}, "axis": null},
            "y2": {"field": "v2"}
          }
        },
        {
          "data": {"name": "top"},
          "mark": {"type": "line", "color": "#55cfe0", "strokeWidth": 1.5},
          "encoding": {
            "x": {"field": "t", "type": "quantitative", "scale": {"domain": [2017.471, 2022.556], "nice": false, "zero": false}, "axis": null},
            "y": {"field": "c", "type": "quantitative", "scale": {"domain": [0, 0.27], "nice": false},
              "axis": {"orient": "right", "values": [0.05, 0.1, 0.15, 0.2, 0.25], "offset": -6, "labels": false, "domain": false, "tickSize": 6, "tickColor": "#9aa0a0", "title": null, "minExtent": 0, "maxExtent": 0}},
            "detail": {"field": "s", "type": "nominal"}
          }
        },
        {
          "data": {"name": "top"},
          "mark": {"type": "line", "color": "#0d6b70", "strokeWidth": 1.5},
          "encoding": {
            "x": {"field": "t", "type": "quantitative", "scale": {"domain": [2017.471, 2022.556], "nice": false, "zero": false}, "axis": null},
            "y": {"field": "w", "type": "quantitative", "scale": {"domain": [0, 0.27], "nice": false},
              "axis": {"orient": "left", "values": [0, 0.05, 0.1, 0.15, 0.2, 0.25], "offset": -5, "domain": false, "tickSize": 5, "tickColor": "#9aa0a0",
                "labelColor": "#9a9e9e", "labelFontSize": 11, "labelPadding": 6,
                "labelExpr": "datum.value == 0 ? '0' : format(datum.value, '.2f')",
                "title": ["SOIL WATER", "CONTENT (m³/m³)"], "titleAngle": 0, "titleAlign": "left", "titleBaseline": "top",
                "titleX": -50, "titleY": -24, "titleColor": "#8a8f8f", "titleFontSize": 12, "titleFontWeight": "normal", "titleLineHeight": 13}},
            "detail": {"field": "s", "type": "nominal"}
          }
        },
        {
          "data": {"values": [{"t1": 2018.069, "t2": 2018.109, "v": 0.2584}]},
          "mark": {"type": "rule", "color": "#0d6b70", "strokeWidth": 1.5},
          "encoding": {
            "x": {"field": "t1", "type": "quantitative", "axis": null},
            "x2": {"field": "t2"},
            "y": {"field": "v", "type": "quantitative", "axis": null}
          }
        },
        {
          "data": {"values": [{"t": 2018.135, "v": 0.2636, "txt": "WEST BUNDS SITE\n20-DAY MOVING\nAVERAGE"}]},
          "mark": {"type": "text", "lineBreak": "\n", "align": "left", "baseline": "top", "font": "Open Sans", "fontWeight": "bold", "fontSize": 9.2, "lineHeight": 10.5, "color": "#0d6b70"},
          "encoding": {
            "x": {"field": "t", "type": "quantitative", "axis": null},
            "y": {"field": "v", "type": "quantitative", "axis": null},
            "text": {"field": "txt"}
          }
        },
        {
          "data": {"values": [{"t": 2019.170, "v": 0.2174, "txt": "CONTROL SITES MEAN\n20-DAY MOVING\nAVERAGE"}]},
          "mark": {"type": "text", "lineBreak": "\n", "align": "left", "baseline": "top", "font": "Open Sans", "fontWeight": "bold", "fontSize": 9.2, "lineHeight": 10.8, "color": "#55d0e3"},
          "encoding": {
            "x": {"field": "t", "type": "quantitative", "axis": null},
            "y": {"field": "v", "type": "quantitative", "axis": null},
            "text": {"field": "txt"}
          }
        },
        {
          "data": {"values": [
            {"i": 1, "t": 2019.460, "v": 0.1844},
            {"i": 2, "t": 2019.479, "v": 0.1742},
            {"i": 3, "t": 2019.466, "v": 0.1643},
            {"i": 4, "t": 2019.427, "v": 0.1573}
          ]},
          "mark": {"type": "line", "color": "#55d0e3", "strokeWidth": 1.2, "interpolate": "basis"},
          "encoding": {
            "x": {"field": "t", "type": "quantitative", "axis": null},
            "y": {"field": "v", "type": "quantitative", "axis": null},
            "order": {"field": "i"}
          }
        },
        {
          "data": {"values": [
            {"t": 2018.365, "v": 0.1396, "txt": "SIMILAR\nSOIL WATER\nCONTENT"},
            {"t": 2020.460, "v": 0.1185, "txt": "BUNDS SITE\nIS WETTER"}
          ]},
          "mark": {"type": "text", "lineBreak": "\n", "align": "left", "baseline": "top", "font": "Open Sans", "fontWeight": "bold", "fontSize": 9.2, "lineHeight": 10.5, "color": "#1b8a8a"},
          "encoding": {
            "x": {"field": "t", "type": "quantitative", "axis": null},
            "y": {"field": "v", "type": "quantitative", "axis": null},
            "text": {"field": "txt"}
          }
        },
        {
          "data": {"values": [
            {"a": "similar", "i": 1, "t": 2018.520, "v": 0.0927},
            {"a": "similar", "i": 2, "t": 2018.540, "v": 0.0674},
            {"a": "similar", "i": 3, "t": 2018.593, "v": 0.0492},
            {"a": "similar", "i": 4, "t": 2018.672, "v": 0.0379},
            {"a": "wetter", "i": 1, "t": 2020.697, "v": 0.0815},
            {"a": "wetter", "i": 2, "t": 2020.717, "v": 0.0716},
            {"a": "wetter", "i": 3, "t": 2020.723, "v": 0.0576}
          ]},
          "mark": {"type": "line", "color": "#1b6f72", "strokeWidth": 1.2, "interpolate": "basis"},
          "encoding": {
            "x": {"field": "t", "type": "quantitative", "axis": null},
            "y": {"field": "v", "type": "quantitative", "axis": null},
            "detail": {"field": "a", "type": "nominal"},
            "order": {"field": "i"}
          }
        },
        {
          "data": {"values": [{"t": 2018.672, "v": 0.0379}]},
          "mark": {"type": "point", "shape": "M-1,-1L0,0L-1,1", "angle": 34, "size": 30, "filled": false, "strokeWidth": 1.2, "color": "#1b6f72", "opacity": 1},
          "encoding": {
            "x": {"field": "t", "type": "quantitative", "axis": null},
            "y": {"field": "v", "type": "quantitative", "axis": null}
          }
        },
        {
          "data": {"values": [{"t": 2020.723, "v": 0.0576}]},
          "mark": {"type": "point", "shape": "M-1,-1L0,0L1,-1", "size": 24, "filled": false, "strokeWidth": 1.2, "color": "#1b6f72", "opacity": 1},
          "encoding": {
            "x": {"field": "t", "type": "quantitative", "axis": null},
            "y": {"field": "v", "type": "quantitative", "axis": null}
          }
        },
        {
          "data": {"values": [{"t": 2017.026, "v": -0.0197, "txt": "B"}]},
          "mark": {"type": "text", "align": "left", "baseline": "alphabetic", "font": "DejaVu Sans", "fontWeight": "bold", "fontSize": 20, "color": "#111111"},
          "encoding": {
            "x": {"field": "t", "type": "quantitative", "axis": null},
            "y": {"field": "v", "type": "quantitative", "axis": null},
            "text": {"field": "txt"}
          }
        }
      ]
    },
    {
      "width": 766,
      "height": 208,
      "title": {
        "text": "Difference Between Soil Water Content at West Bunds Site and Control Sites",
        "anchor": "start",
        "frame": "group",
        "dx": -60,
        "offset": 6,
        "font": "DejaVu Sans",
        "fontSize": 14.2,
        "fontWeight": "bold",
        "color": "#2e3636"
      },
      "resolve": {"axis": {"y": "independent"}},
      "layer": [
        {
          "data": {"values": [{"t1": 2018.748, "t2": 2018.911, "v1": -0.0253, "v2": 0.0347}]},
          "mark": {"type": "rect", "color": "#ead6e4"},
          "encoding": {
            "x": {"field": "t1", "type": "quantitative", "scale": {"domain": [2017.471, 2022.556], "nice": false, "zero": false},
              "axis": {"orient": "bottom", "values": [2018, 2019, 2020, 2021, 2022], "labels": false, "title": null,
                "domainColor": "#ffffff", "domainOpacity": 0, "ticks": true, "tickColor": "#8a9797", "tickSize": 5}},
            "x2": {"field": "t2"},
            "y": {"field": "v1", "type": "quantitative", "scale": {"domain": [-0.025, 0.035], "nice": false, "zero": false}, "axis": null},
            "y2": {"field": "v2"}
          }
        },
        {
          "data": {"name": "band"},
          "mark": {"type": "area", "color": "#e4f5ed", "opacity": 0.92},
          "encoding": {
            "x": {"field": "t", "type": "quantitative", "scale": {"domain": [2017.471, 2022.556], "nice": false, "zero": false}, "axis": null},
            "y": {"field": "hi", "type": "quantitative", "scale": {"domain": [-0.025, 0.035], "nice": false, "zero": false},
              "axis": {"orient": "right", "values": [-0.02, -0.01, 0.01, 0.02, 0.03], "offset": -6, "labels": false, "domain": false, "tickSize": 6, "tickColor": "#9aa0a0", "title": null, "minExtent": 0, "maxExtent": 0}},
            "y2": {"field": "lo"}
          }
        },
        {
          "data": {"values": [{"t1": 2017.471, "t2": 2022.556, "v": 0}]},
          "mark": {"type": "rule", "color": "#6f7f7f", "strokeWidth": 1.4},
          "encoding": {
            "x": {"field": "t1", "type": "quantitative", "scale": {"domain": [2017.471, 2022.556], "nice": false, "zero": false}, "axis": null},
            "x2": {"field": "t2"},
            "y": {"field": "v", "type": "quantitative", "scale": {"domain": [-0.025, 0.035], "nice": false, "zero": false}, "axis": null}
          }
        },
        {
          "data": {"name": "mean"},
          "mark": {"type": "line", "color": "#5ec796", "strokeWidth": 1.6},
          "encoding": {
            "x": {"field": "t", "type": "quantitative", "scale": {"domain": [2017.471, 2022.556], "nice": false, "zero": false}, "axis": null},
            "y": {"field": "m", "type": "quantitative", "scale": {"domain": [-0.025, 0.035], "nice": false, "zero": false},
              "axis": {"orient": "left", "values": [-0.02, -0.01, 0, 0.01, 0.02, 0.03], "offset": -5, "domain": false, "tickSize": 5, "tickColor": "#9aa0a0",
                "labelColor": "#9a9e9e", "labelFontSize": 11, "labelPadding": 6,
                "labelExpr": "datum.value == 0 ? '0' : (datum.value < 0 ? '-' + format(-datum.value, '.2f') : format(datum.value, '.2f'))",
                "title": ["DIFFERENCE IN SOIL WATER", "CONTENT (m³/m³)"], "titleAngle": 0, "titleAlign": "left", "titleBaseline": "top",
                "titleX": -50, "titleY": -22, "titleColor": "#8a8f8f", "titleFontSize": 12, "titleFontWeight": "normal", "titleLineHeight": 13}}
          }
        },
        {
          "data": {"name": "years"},
          "mark": {"type": "text", "align": "center", "baseline": "middle", "font": "Open Sans", "fontSize": 11, "color": "#9a9e9e"},
          "encoding": {
            "x": {"field": "yr", "type": "quantitative", "axis": null},
            "y": {"datum": -0.0294, "type": "quantitative", "axis": null},
            "text": {"field": "lab"}
          }
        },
        {
          "data": {"values": [{"t": 2018.940, "v": 0.0344, "txt": "BUND\nDIGGING\nPERIOD"}]},
          "mark": {"type": "text", "lineBreak": "\n", "align": "left", "baseline": "top", "font": "Open Sans", "fontWeight": "bold", "fontSize": 9.2, "lineHeight": 10.8, "color": "#7c2f6c"},
          "encoding": {
            "x": {"field": "t", "type": "quantitative", "axis": null},
            "y": {"field": "v", "type": "quantitative", "axis": null},
            "text": {"field": "txt"}
          }
        },
        {
          "data": {"values": [{"t": 2019.615, "v": 0.0048, "txt": "MEAN —"}]},
          "mark": {"type": "text", "align": "right", "baseline": "middle", "font": "Open Sans", "fontWeight": "bold", "fontSize": 9, "color": "#6dcb9f"},
          "encoding": {
            "x": {"field": "t", "type": "quantitative", "axis": null},
            "y": {"field": "v", "type": "quantitative", "axis": null},
            "text": {"field": "txt"}
          }
        },
        {
          "data": {"values": [{"t": 2021.164, "v": 0.0335, "txt": "MIN/MAX —"}]},
          "mark": {"type": "text", "align": "right", "baseline": "middle", "font": "Open Sans", "fontWeight": "bold", "fontSize": 9, "color": "#b3dac8"},
          "encoding": {
            "x": {"field": "t", "type": "quantitative", "axis": null},
            "y": {"field": "v", "type": "quantitative", "axis": null},
            "text": {"field": "txt"}
          }
        },
        {
          "data": {"values": [
            {"t": 2017.569, "v": 0.0198, "txt": "BUNDS SITE\nIS WETTER"},
            {"t": 2017.569, "v": -0.0130, "txt": "BUNDS SITE\nIS DRIER"}
          ]},
          "mark": {"type": "text", "lineBreak": "\n", "align": "left", "baseline": "top", "font": "Open Sans", "fontWeight": "bold", "fontSize": 9, "lineHeight": 10.5, "color": "#17807e"},
          "encoding": {
            "x": {"field": "t", "type": "quantitative", "axis": null},
            "y": {"field": "v", "type": "quantitative", "axis": null},
            "text": {"field": "txt"}
          }
        },
        {
          "data": {"values": [
            {"t": 2017.517, "v1": 0.0019, "v2": 0.0162},
            {"t": 2017.517, "v1": -0.0024, "v2": -0.0166}
          ]},
          "mark": {"type": "rule", "color": "#17807e", "strokeWidth": 1.3},
          "encoding": {
            "x": {"field": "t", "type": "quantitative", "axis": null},
            "y": {"field": "v1", "type": "quantitative", "axis": null},
            "y2": {"field": "v2"}
          }
        },
        {
          "data": {"values": [{"t": 2017.517, "v": 0.0162}]},
          "mark": {"type": "point", "shape": "M-1,1L0,0L1,1", "size": 24, "filled": false, "strokeWidth": 1.3, "color": "#17807e", "opacity": 1},
          "encoding": {
            "x": {"field": "t", "type": "quantitative", "axis": null},
            "y": {"field": "v", "type": "quantitative", "axis": null}
          }
        },
        {
          "data": {"values": [{"t": 2017.517, "v": -0.0166}]},
          "mark": {"type": "point", "shape": "M-1,-1L0,0L1,-1", "size": 24, "filled": false, "strokeWidth": 1.3, "color": "#17807e", "opacity": 1},
          "encoding": {
            "x": {"field": "t", "type": "quantitative", "axis": null},
            "y": {"field": "v", "type": "quantitative", "axis": null}
          }
        }
      ]
    }
  ]
}
